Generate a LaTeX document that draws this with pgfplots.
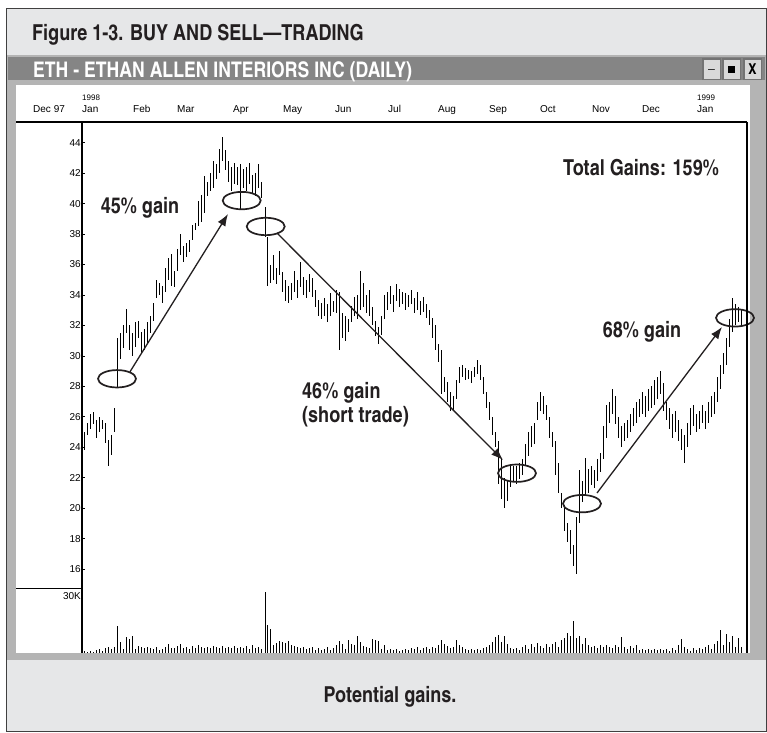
\documentclass[border=0pt]{standalone}
\usepackage{fontspec}
\setmainfont{Liberation Sans}
\newfontfamily\cnb{texgyreheroscn-bold.otf}
\usepackage{pgfplots}
\pgfplotsset{compat=1.18}
\usepackage{pgfplotstable}
\usetikzlibrary{arrows.meta}
\definecolor{band}{HTML}{E6E7E8}
\definecolor{dith}{HTML}{B4B4B4}
\definecolor{tbar}{HTML}{858585}
\definecolor{ink}{HTML}{231F20}
\newcommand{\annot}{\cnb\fontsize{22}{24}\selectfont}
\newcommand{\tk}{\fontsize{10}{10}\selectfont}
\tikzset{ell/.style={line width=1.7pt, draw=ink, x radius=19pt, y radius=8.7pt}}

\pgfplotstableread{
x l h v
84 23.8 25.0 0.8
87 24.8 25.6 0.5
90 25.2 26.2 1.0
93 25.5 26.3 0.6
96 24.6 25.8 1.5
99 25.0 26.0 2.2
102 25.2 25.8 1.2
105 24.3 25.6 2.6
108 22.8 24.5 3.0
111 23.5 24.8 2.0
114 25.0 26.6 3.2
117 27.9 31.2 14.0
120 29.8 31.5 6.0
123 30.5 32.0 2.0
126 31.5 33.1 8.5
129 30.4 32.0 7.5
132 30.0 31.5 9.0
135 30.6 32.2 2.0
138 31.2 32.3 3.5
141 30.1 31.6 3.0
144 30.4 31.8 2.4
147 30.8 32.2 3.4
150 31.5 32.6 2.5
153 32.3 33.5 2.0
156 33.8 35.0 3.0
159 34.0 34.8 1.8
162 33.5 34.6 2.2
165 34.2 35.8 3.0
168 35.0 36.4 4.5
171 34.6 36.7 2.6
174 34.5 35.6 2.4
177 35.6 37.0 3.6
180 36.6 38.0 4.8
183 36.2 37.2 2.5
186 36.5 37.4 3.0
189 36.8 37.6 2.2
192 37.6 38.6 3.6
195 38.3 38.7 2.6
198 38.5 40.2 4.2
201 38.8 40.6 3.0
204 39.4 41.8 2.8
207 40.5 41.4 3.2
210 40.8 42.0 2.4
213 41.0 42.8 3.8
216 41.6 42.6 3.0
219 42.0 43.6 2.6
222 42.8 44.4 3.6
225 42.2 43.5 2.4
228 41.4 42.8 3.0
231 40.8 42.4 2.8
234 41.3 42.7 3.6
237 41.2 42.4 2.4
240 39.6 42.6 3.0
243 41.0 42.3 2.6
246 40.8 42.4 3.8
249 41.3 42.7 2.2
252 40.6 41.9 4.0
255 40.5 42.0 2.8
258 41.0 42.6 3.4
261 40.4 41.4 2.0
265 37.8 39.8 32.0
267 34.6 37.8 15.0
270 34.8 36.0 12.5
273 35.0 36.6 4.0
276 34.7 35.8 5.5
279 35.3 36.9 6.2
282 34.2 35.5 6.0
285 33.6 35.0 5.2
288 33.5 34.6 6.4
291 33.7 34.8 4.0
294 34.2 35.6 3.5
297 33.8 35.0 3.2
300 34.5 36.2 2.6
303 34.0 35.2 3.0
306 33.8 35.0 2.0
309 34.2 35.4 2.4
312 33.9 35.1 3.0
315 33.2 34.3 1.6
318 32.6 33.7 2.6
321 32.4 33.5 1.4
324 32.6 33.8 2.2
327 32.2 33.4 3.0
330 32.6 34.1 1.8
333 32.9 33.6 2.4
336 32.8 34.3 4.2
339 30.4 34.2 6.5
342 31.2 32.8 4.8
345 31.0 32.6 2.2
348 31.6 32.4 7.0
351 32.2 33.3 5.0
354 32.6 33.9 4.0
357 32.4 34.0 9.0
360 33.0 35.6 6.0
363 33.2 34.8 3.6
366 32.8 34.0 3.0
369 32.6 34.3 2.4
372 32.0 33.2 7.5
375 31.3 32.3 7.0
378 30.8 31.9 6.2
381 31.4 32.6 2.0
384 32.4 34.0 4.0
387 33.0 34.2 1.6
390 33.4 34.6 2.2
393 32.9 34.0 1.4
396 33.6 34.7 2.0
399 33.2 34.4 1.2
402 33.4 34.2 1.8
405 33.0 34.1 2.0
408 33.2 34.0 1.5
411 33.4 34.3 2.4
414 32.8 33.8 2.0
417 33.0 34.2 3.0
420 32.7 33.6 1.8
423 32.9 33.9 2.6
426 32.5 33.4 3.4
429 32.0 33.0 2.2
432 31.2 32.5 3.0
435 30.4 32.0 2.4
438 29.6 30.8 4.4
441 27.5 30.4 7.0
444 27.6 28.6 5.0
447 27.0 28.3 3.8
450 26.4 27.6 2.6
453 26.4 27.4 3.2
456 27.2 28.4 7.0
459 28.2 29.3 4.4
462 28.6 29.4 3.0
465 28.4 29.2 2.0
468 28.5 29.1 1.6
471 28.2 29.0 2.2
474 28.6 29.3 1.4
477 28.8 29.7 2.0
480 28.4 29.4 1.8
483 27.5 28.6 2.4
486 26.6 27.6 3.0
489 25.8 27.0 4.0
492 24.8 26.0 6.0
495 24.0 25.0 8.5
498 21.6 24.4 9.5
501 20.6 23.2 6.0
504 20.0 22.0 9.0
507 20.5 21.8 5.0
510 21.4 22.9 2.4
513 21.8 22.8 2.0
516 21.6 22.8 2.6
519 21.9 23.0 1.6
522 22.2 23.2 3.0
525 22.8 24.2 4.4
528 23.4 25.0 2.2
531 24.0 25.4 5.0
534 24.2 25.6 3.0
537 25.8 27.0 5.4
540 26.4 27.6 3.6
543 26.2 27.4 2.4
546 25.8 26.8 4.8
549 24.6 26.0 3.0
552 24.0 25.0 4.6
555 22.2 24.4 6.0
558 21.0 23.0 3.4
561 20.0 21.0 7.0
564 18.5 20.2 8.0
567 17.8 19.0 10.5
570 17.0 18.6 9.0
573 16.2 17.6 17.0
576 15.7 19.4 8.0
579 19.0 22.5 9.0
582 20.4 21.8 5.0
585 20.8 23.3 8.0
588 21.0 22.6 4.0
591 21.5 22.8 3.0
594 21.3 22.5 3.6
597 21.8 23.2 2.4
600 22.4 23.6 4.0
603 23.2 25.4 3.0
606 24.6 26.8 4.0
609 25.6 27.0 3.4
612 26.2 27.8 2.6
615 25.5 27.4 4.0
618 24.6 26.0 3.0
621 24.0 25.4 8.5
624 24.4 25.6 3.0
627 24.6 25.8 2.2
630 25.0 26.2 3.8
633 25.4 26.6 2.6
636 25.6 27.0 4.0
639 26.0 27.2 1.4
642 26.2 27.6 2.0
645 26.0 27.4 1.6
648 26.4 27.8 2.0
651 26.6 28.0 1.8
654 26.8 28.4 2.2
657 27.2 28.6 1.4
660 27.5 29.0 2.0
663 26.4 28.2 1.6
666 25.8 27.0 2.0
669 25.2 26.6 1.2
672 24.6 26.2 2.4
675 25.0 26.4 1.6
678 24.4 25.8 4.2
681 23.8 25.2 7.5
684 23.0 24.8 3.0
687 24.0 25.6 2.0
690 24.8 26.6 1.0
693 25.4 26.8 2.4
696 25.0 26.2 1.8
699 25.2 26.4 2.6
702 25.6 26.8 2.0
705 25.2 26.4 3.0
708 25.6 27.0 4.0
711 26.0 27.4 2.2
714 26.2 27.6 5.0
717 27.0 28.6 6.5
720 27.8 29.4 12.0
723 28.8 30.2 4.0
726 29.4 31.2 10.0
729 30.6 32.4 6.0
732 31.6 33.8 9.0
735 32.0 33.4 3.0
738 32.2 33.2 8.0
741 32.0 33.0 3.0
}\price

\begin{document}
\begin{tikzpicture}[x=1pt,y=1pt]
% page background and bands
\fill[white] (0,0) rectangle (767,-732);
\fill[band] (6,-8) rectangle (767,-732);
\node[anchor=base west, inner sep=0pt, font=\cnb\fontsize{22}{24}\selectfont, text=ink] at (32,-40) {Figure 1-3. BUY AND SELL—TRADING};
% window frame
\fill[dith] (6,-55) rectangle (767,-660);
\fill[tbar] (8,-57) rectangle (765,-80);
\fill[white] (16,-85) rectangle (750,-653);
% window title text
\node[anchor=base west, inner sep=0pt, font=\cnb\fontsize{21.5}{22}\selectfont, text=white] at (33,-77) {ETH - ETHAN ALLEN INTERIORS INC (DAILY)};
% window buttons
\foreach \bx/\g in {702/{\_},722/{\rule{7pt}{7pt}},743/{X}}{
  \fill[black!55] (\bx,-58) rectangle (\bx+19,-80);
  \fill[black!15] (\bx+1.5,-59.5) rectangle (\bx+17.5,-78.5);
  \node[font=\cnb\fontsize{15}{15}\selectfont, text=black] at (\bx+9.5,-69) {\g};
}
% left panel lines
\draw[line width=1.2pt] (16,-122) -- (82,-122);
\draw[line width=0.8pt] (16,-588) -- (82,-588);
% date labels outside axis
\node[anchor=base west, inner sep=0pt, font=\tk] at (33,-112) {Dec 97};
\node[anchor=base west, inner sep=0pt, font=\fontsize{8}{8}\selectfont] at (82,-100) {1998};
\node[anchor=base west, inner sep=0pt, font=\fontsize{8}{8}\selectfont] at (697,-100) {1999};

% ---------- price panel ----------
\begin{axis}[
  at={(82pt,-588pt)}, anchor=south west, scale only axis,
  width=665pt, height=466pt,
  xmin=82, xmax=747, ymin=14.76, ymax=45.36,
  clip=false,
  axis x line*=top, axis y line*=left,
  axis line style={line width=1.2pt, black},
  xtick={82,133,177,233,283,335,388,438,489,540,592,642,697},
  xticklabels={Jan,Feb,Mar,Apr,May,Jun,Jul,Aug,Sep,Oct,Nov,Dec,Jan},
  xticklabel style={anchor=base west, inner sep=0pt, yshift=10pt, font=\tk},
  major x tick style={draw=none},
  ytick={16,18,...,44},
  yticklabel style={anchor=east, inner sep=0pt, xshift=-1pt, font=\tk},
  tick align=inside, major tick length=3pt,
  y tick style={line width=0.8pt, black},
  /pgf/number format/assume math mode=true,
]
\addplot[only marks, mark=*, mark options={draw=none, fill=none}, mark size=0pt, forget plot,
  error bars/.cd, y dir=both, y explicit, error mark=none,
  error bar style={draw=black, line width=0.9pt}]
  table[x=x, y expr={(\thisrow{h}+\thisrow{l})/2}, y error expr={(\thisrow{h}-\thisrow{l})/2}] {\price};
% ellipses
\draw[ell] (axis cs:117,28.5) ellipse [];
\draw[ell] (axis cs:241.7,40.2) ellipse [];
\draw[ell] (axis cs:265.7,38.5) ellipse [];
\draw[ell] (axis cs:517,22.3) ellipse [];
\draw[ell] (axis cs:582,20.3) ellipse [];
\draw[ell] (axis cs:735,32.5) ellipse [];
% arrows
\draw[line width=1.3pt, ink, -{Latex[length=12pt,width=9pt]}] (axis cs:130,28.96) -- (axis cs:228,39.32);
\draw[line width=1.3pt, ink, -{Latex[length=12pt,width=9pt]}] (axis cs:277,38.07) -- (axis cs:503,23.16);
\draw[line width=1.3pt, ink, -{Latex[length=12pt,width=9pt]}] (axis cs:597,21.0) -- (axis cs:722,31.9);
% annotations
\node[font=\annot, text=ink] at (axis cs:140,39.71) {45\% gain};
\node[font=\annot, text=ink] at (axis cs:641,42.34) {Total Gains: 159\%};
\node[font=\annot, text=ink, anchor=west, inner sep=0pt] at (axis cs:302,27.56) {46\% gain};
\node[font=\annot, text=ink, anchor=west, inner sep=0pt] at (axis cs:302,25.99) {(short trade)};
\node[font=\annot, text=ink] at (axis cs:642,31.57) {68\% gain};
\end{axis}

% ---------- volume panel ----------
\begin{axis}[
  at={(82pt,-653pt)}, anchor=south west, scale only axis,
  width=665pt, height=65pt,
  xmin=82, xmax=747, ymin=0, ymax=34.2,
  axis x line=none, axis y line*=left,
  axis line style={line width=1.2pt, black},
  xtick=\empty, ytick={30}, yticklabels={30K},
  yticklabel style={anchor=east, inner sep=0pt, xshift=-1pt, font=\tk},
  major tick length=0pt,
]
\addplot[ycomb, black, line width=0.9pt, mark=none] table[x=x, y=v] {\price};
\end{axis}

% right border line of chart
\draw[line width=1.8pt] (747,-122) -- (747,-653);
% caption
\node[font=\annot, text=ink] at (390,-697) {Potential gains.};
% outer frame
\draw[black!75, line width=1pt] (6.5,-8.5) rectangle (766.5,-731.5);
\pgfresetboundingbox
\path[use as bounding box] (0,0) rectangle (767,-732);
\end{tikzpicture}
\end{document}
